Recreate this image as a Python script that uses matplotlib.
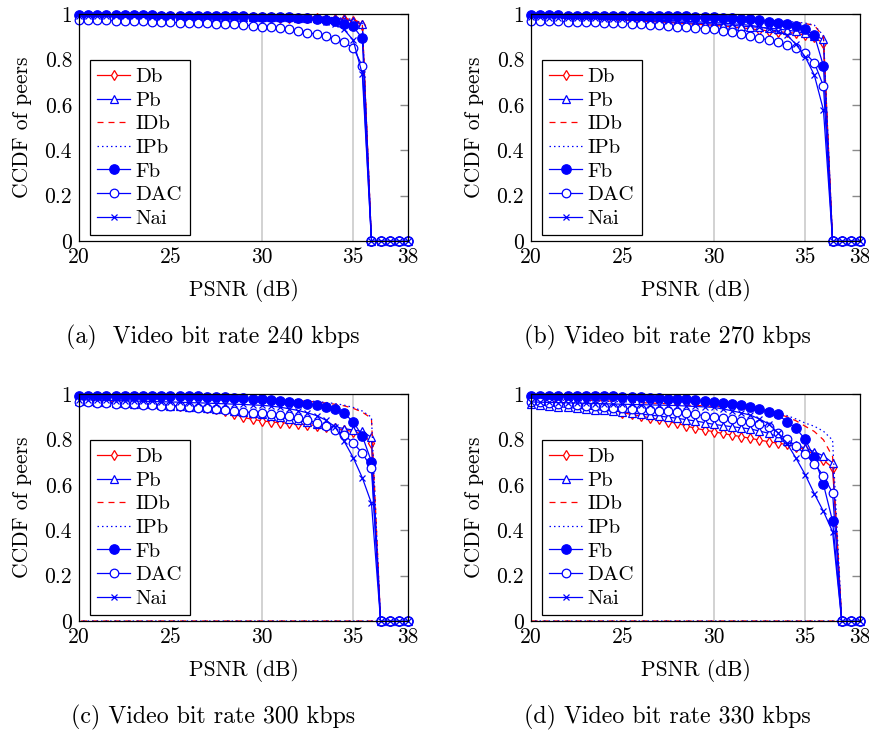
import numpy as np
import matplotlib
matplotlib.use("Agg")
import matplotlib.pyplot as plt

plt.rcParams["font.family"] = "cmr10"
plt.rcParams["mathtext.fontset"] = "cm"
plt.rcParams["axes.formatter.use_mathtext"] = True

# PSNR sample points (dB)
psnr = np.arange(20.0, 38.01, 0.5)
psnr_wrap = list(psnr) + [20.0]

x_ticks = [20, 25, 30, 35, 38]
x_tick_labels = ["20", "25", "30", "35", "38"]
y_ticks = [0, 0.2, 0.4, 0.6, 0.8, 1.0]
y_tick_labels = ["0", "0.2", "0.4", "0.6", "0.8", "1"]
grid_x = [30, 35]

series_names = ["Db", "Pb", "IDb", "IPb", "Fb", "DAC", "Nai"]
captions = ["(a)  Video bit rate 240 kbps", "(b) Video bit rate 270 kbps",
            "(c) Video bit rate 300 kbps", "(d) Video bit rate 330 kbps"]

# ---- (a) 240 kbps ----
Db_a = [.990, .990, .990, .990, .990, .990, .989, .989, .989, .989, .989, .988, .988, .988, .987, .987,
        .987, .986, .986, .986, .985, .985, .984, .984, .983, .982, .981, .980, .979, .976, .969, .953,
        0, 0, 0, 0, 0]
Pb_a = [.991, .991, .991, .991, .991, .990, .990, .990, .990, .990, .989, .989, .989, .989, .988, .988,
        .988, .987, .987, .987, .986, .986, .985, .985, .984, .983, .982, .981, .980, .977, .970, .956,
        0, 0, 0, 0, 0]
IDb_a = [.995, .995, .995, .995, .995, .995, .994, .994, .994, .994, .994, .993, .993, .993, .993, .992,
         .992, .992, .991, .991, .991, .990, .990, .989, .988, .987, .986, .985, .983, .980, .975, .960,
         0, 0, 0, 0, 0]
IPb_a = [.996, .996, .996, .996, .995, .995, .995, .995, .995, .995, .994, .994, .994, .994, .993, .993,
         .993, .992, .992, .992, .991, .991, .990, .990, .989, .988, .987, .986, .984, .981, .976, .958,
         0, 0, 0, 0, 0]
Fb_a = [.995, .995, .995, .995, .995, .994, .994, .994, .994, .993, .993, .993, .992, .992, .991, .991,
        .990, .990, .989, .988, .988, .987, .986, .985, .983, .981, .978, .974, .967, .957, .945, .893,
        0, 0, 0, 0, 0]
DAC_a = [.975, .974, .973, .972, .971, .970, .969, .968, .966, .965, .963, .962, .961, .960, .959, .958,
         .956, .954, .951, .948, .944, .941, .937, .932, .925, .918, .911, .901, .890, .875, .852, .771,
         0, 0, 0, 0, 0]
Nai_a = [.990, .990, .990, .990, .989, .989, .989, .989, .988, .988, .988, .988, .987, .987, .987, .986,
         .986, .985, .985, .984, .984, .983, .982, .981, .980, .977, .972, .965, .955, .932, .885, .735,
         0, 0, 0, 0, 0]

# ---- (b) 270 kbps ----
Db_b = [.985, .984, .983, .982, .980, .979, .978, .977, .975, .974, .972, .971, .969, .967, .965, .963,
        .960, .958, .955, .953, .950, .947, .943, .939, .935, .930, .926, .922, .919, .915, .907, .897,
        .871, 0, 0, 0, 0]
Pb_b = [.986, .985, .984, .983, .982, .981, .980, .979, .977, .976, .975, .973, .972, .970, .968, .966,
        .964, .962, .960, .958, .956, .953, .950, .947, .944, .941, .938, .934, .929, .923, .915, .905,
        .888, 0, 0, 0, 0]
IDb_b = [.990, .990, .990, .989, .989, .989, .988, .988, .988, .987, .987, .986, .986, .985, .985, .984,
         .983, .982, .981, .980, .979, .978, .977, .975, .974, .972, .970, .968, .966, .963, .958, .950,
         .900, 0, 0, 0, 0]
IPb_b = [.992, .992, .991, .991, .991, .990, .990, .990, .989, .989, .988, .988, .987, .987, .986, .985,
         .985, .984, .983, .982, .981, .980, .978, .977, .975, .973, .971, .969, .967, .964, .960, .951,
         .905, 0, 0, 0, 0]
Fb_b = [.994, .994, .994, .994, .993, .993, .993, .993, .992, .992, .992, .991, .991, .991, .990, .990,
        .989, .989, .988, .987, .986, .984, .982, .980, .978, .972, .966, .962, .956, .949, .932, .907,
        .771, 0, 0, 0, 0]
DAC_b = [.970, .969, .968, .967, .966, .965, .964, .963, .962, .961, .959, .957, .955, .953, .950, .947,
         .944, .942, .939, .936, .933, .927, .919, .912, .904, .895, .885, .875, .863, .849, .827, .786,
         .683, 0, 0, 0, 0]
Nai_b = [.985, .985, .984, .984, .983, .982, .981, .981, .980, .979, .978, .977, .976, .974, .972, .971,
         .970, .968, .966, .964, .962, .960, .957, .954, .950, .944, .935, .923, .908, .866, .812, .731,
         .577, 0, 0, 0, 0]

# ---- (c) 300 kbps ----
Db_c = [.975, .972, .970, .967, .965, .962, .960, .957, .955, .952, .950, .948, .945, .941, .938, .933,
        .925, .912, .897, .888, .882, .877, .874, .871, .868, .865, .861, .856, .849, .842, .834, .824,
        .786, 0, 0, 0, 0]
Pb_c = [.970, .968, .966, .964, .962, .960, .958, .956, .954, .951, .949, .946, .944, .941, .938, .935,
        .932, .927, .922, .916, .910, .903, .897, .890, .884, .876, .868, .862, .855, .848, .841, .835,
        .809, 0, 0, 0, 0]
IDb_c = [.985, .985, .984, .984, .984, .983, .983, .983, .982, .982, .982, .981, .981, .981, .980, .980,
         .980, .979, .979, .978, .978, .977, .975, .973, .970, .968, .965, .960, .955, .948, .937, .920,
         .893, 0, 0, 0, 0, 0]
IPb_c = [.987, .987, .986, .986, .986, .985, .985, .985, .984, .984, .984, .983, .983, .983, .982, .982,
         .981, .981, .980, .980, .979, .978, .977, .975, .973, .970, .967, .963, .958, .951, .941, .925,
         .898, 0, 0, 0, 0, 0]
Fb_c = [.993, .993, .993, .993, .992, .992, .992, .992, .991, .991, .990, .990, .989, .989, .988, .987,
        .986, .984, .982, .980, .977, .974, .970, .966, .962, .957, .952, .944, .933, .915, .878, .815,
        .702, 0, 0, 0, 0]
DAC_c = [.966, .964, .962, .960, .958, .956, .955, .953, .951, .949, .947, .945, .942, .940, .937, .934,
         .930, .926, .922, .918, .915, .911, .907, .901, .893, .885, .874, .860, .843, .821, .784, .740,
         .674, 0, 0, 0, 0]
Nai_c = [.975, .974, .973, .972, .971, .970, .969, .968, .967, .966, .965, .964, .962, .961, .960, .958,
         .957, .955, .954, .952, .950, .947, .942, .935, .927, .917, .905, .885, .856, .793, .720, .631,
         .519, 0, 0, 0, 0]

# ---- (d) 330 kbps ----
Db_d = [.975, .972, .968, .964, .960, .956, .952, .945, .937, .928, .918, .910, .903, .895, .888, .878,
        .871, .859, .849, .841, .834, .826, .819, .812, .805, .797, .790, .783, .778, .768, .756, .734,
        .709, .675, 0, 0, 0]
Pb_d = [.955, .951, .948, .944, .941, .937, .934, .931, .928, .925, .922, .917, .912, .907, .903, .898,
        .893, .887, .881, .874, .866, .861, .856, .851, .846, .837, .827, .812, .793, .775, .761, .746,
        .727, .697, 0, 0, 0]
IDb_d = [.980, .979, .978, .976, .975, .974, .973, .971, .970, .968, .966, .964, .962, .960, .959, .957,
         .955, .950, .950, .948, .945, .943, .940, .936, .932, .927, .922, .912, .900, .882, .858, .835,
         .798, .724, 0, 0, 0, 0]
IPb_d = [.975, .974, .974, .973, .972, .971, .970, .969, .968, .967, .966, .965, .963, .962, .961, .959,
         .958, .956, .955, .954, .952, .950, .947, .944, .940, .934, .928, .918, .905, .890, .872, .858,
         .836, .797, 0, 0, 0, 0]
Fb_d = [.993, .993, .993, .993, .992, .992, .991, .991, .990, .989, .988, .987, .985, .984, .982, .980,
        .978, .976, .974, .969, .963, .960, .956, .950, .944, .933, .922, .910, .878, .849, .800, .721,
        .602, .440, 0, 0, 0]
DAC_d = [.966, .963, .960, .957, .954, .951, .948, .945, .942, .940, .937, .935, .933, .930, .926, .923,
         .919, .915, .910, .905, .900, .894, .888, .882, .875, .866, .856, .830, .800, .770, .736, .693,
         .640, .564, 0, 0, 0]
Nai_d = [.965, .964, .963, .962, .961, .960, .959, .958, .957, .956, .955, .954, .953, .952, .951, .950,
         .949, .947, .945, .943, .941, .934, .926, .917, .907, .890, .868, .830, .783, .717, .645, .561,
         .483, .393, 0, 0, 0]

panels = [
    [Db_a, Pb_a, IDb_a, IPb_a, Fb_a, DAC_a, Nai_a],
    [Db_b, Pb_b, IDb_b, IPb_b, Fb_b, DAC_b, Nai_b],
    [Db_c, Pb_c, IDb_c, IPb_c, Fb_c, DAC_c, Nai_c],
    [Db_d, Pb_d, IDb_d, IPb_d, Fb_d, DAC_d, Nai_d],
]

styles = {
    "Db":  dict(color="red", marker="d", markersize=5.6, markerfacecolor="white", linestyle="-"),
    "Pb":  dict(color="blue", marker="^", markersize=5.2, markerfacecolor="white", linestyle="-"),
    "IDb": dict(color="red", marker=None, linestyle=(0, (4.8, 4))),
    "IPb": dict(color="blue", marker=None, linestyle=(0, (1.2, 2.4))),
    "Fb":  dict(color="blue", marker="o", markersize=6.8, markerfacecolor="blue", linestyle="-"),
    "DAC": dict(color="blue", marker="o", markersize=6.2, markerfacecolor="white", linestyle="-"),
    "Nai": dict(color="blue", marker="x", markersize=4.8, linestyle="-"),
}

FS = 15.5
fig = plt.figure(figsize=(8.7, 7.34), dpi=100)
W, H = 870.0, 734.0
ax_boxes = [(79, 14), (531, 14), (79, 394), (531, 394)]
aw, ah = 329, 227
cap_pos = [(213, 337), (667, 337), (213, 717), (667, 717)]

for k, (series, (lx, ty)) in enumerate(zip(panels, ax_boxes)):
    ax = fig.add_axes([lx / W, 1 - (ty + ah) / H, aw / W, ah / H])
    for gx in grid_x:
        ax.axvline(gx, color="#cfcfcf", linewidth=1.3, zorder=0)
    for name, ys in zip(series_names, series):
        xs = psnr_wrap if len(ys) > len(psnr) else psnr
        st = dict(styles[name])
        ax.plot(xs, ys, label=name, linewidth=0.9, markeredgewidth=0.9,
                clip_on=False, **st)
    ax.set_xlim(20, 38)
    ax.set_ylim(0, 1)
    ax.set_xticks(x_ticks)
    ax.set_xticklabels(x_tick_labels)
    ax.set_yticks(y_ticks)
    ax.set_yticklabels(y_tick_labels)
    ax.tick_params(axis="x", length=0, labelsize=FS, pad=5)
    ax.tick_params(axis="y", direction="in", left=False, right=True, length=6,
                   color="#8a8a8a", width=1.0, labelsize=FS, pad=5)
    for sp in ax.spines.values():
        sp.set_linewidth(0.9)
        sp.set_zorder(5)
    ax.set_xlabel("PSNR (dB)", fontsize=FS, labelpad=8)
    ax.set_ylabel("CCDF of peers", fontsize=FS, labelpad=9)
    leg = ax.legend(loc="lower left", bbox_to_anchor=(0.033, 0.026), borderaxespad=0,
                    fancybox=False, edgecolor="black", framealpha=1, fontsize=15,
                    handlelength=1.6, handletextpad=0.25, labelspacing=0.24,
                    borderpad=0.35)
    leg.get_frame().set_linewidth(0.9)
    cx, cy = cap_pos[k]
    fig.text(cx / W, 1 - cy / H, captions[k], ha="center", va="center", fontsize=17.2)

fig.savefig("out.png", dpi=100)
